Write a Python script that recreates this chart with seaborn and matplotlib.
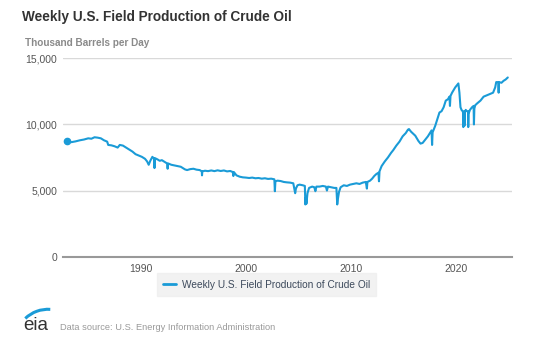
import numpy as np
import pandas as pd
import matplotlib
matplotlib.use("Agg")
import matplotlib.pyplot as plt
import seaborn as sns
from matplotlib.patches import Arc

# ---- data ----
years = [
    1983.0, 1983.4, 1983.8, 1984.2, 1984.6, 1985.0, 1985.3, 1985.6, 1985.9, 1986.2,
    1986.5, 1986.8, 1986.9, 1987.2, 1987.5, 1987.8, 1988.0, 1988.3, 1988.6, 1988.9,
    1989.2, 1989.5, 1989.8, 1990.1, 1990.4, 1990.6, 1990.75, 1990.9, 1991.1, 1991.25,
    1991.3, 1991.35, 1991.6, 1991.8, 1992.0, 1992.3, 1992.5, 1992.55, 1992.6, 1992.9,
    1993.2, 1993.5, 1993.8, 1994.0, 1994.2, 1994.4, 1994.7, 1995.0, 1995.3, 1995.6,
    1995.8, 1995.82, 1995.85, 1996.1, 1996.4, 1996.7, 1997.0, 1997.3, 1997.6, 1997.9,
    1998.2, 1998.5, 1998.75, 1998.8, 1998.85, 1999.1, 1999.4, 1999.7, 2000.0, 2000.3,
    2000.6, 2000.9, 2001.2, 2001.5, 2001.8, 2002.1, 2002.4, 2002.7, 2002.75, 2002.8,
    2003.0, 2003.3, 2003.6, 2003.9, 2004.2, 2004.5, 2004.68, 2004.75, 2004.9, 2005.1,
    2005.4, 2005.6, 2005.65, 2005.7, 2005.75, 2005.85, 2006.0, 2006.3, 2006.5, 2006.6,
    2006.7, 2007.0, 2007.3, 2007.6, 2007.7, 2007.8, 2008.1, 2008.4, 2008.6, 2008.68,
    2008.75, 2008.85, 2009.0, 2009.3, 2009.6, 2009.9, 2010.2, 2010.5, 2010.8, 2011.1,
    2011.4, 2011.5, 2011.55, 2011.8, 2012.0, 2012.2, 2012.4, 2012.6, 2012.65, 2012.7,
    2012.9, 2013.2, 2013.5, 2013.8, 2014.0, 2014.3, 2014.6, 2014.9, 2015.2, 2015.4,
    2015.5, 2015.7, 2015.9, 2016.1, 2016.4, 2016.6, 2016.8, 2017.0, 2017.3, 2017.5,
    2017.65, 2017.7, 2017.75, 2018.0, 2018.2, 2018.4, 2018.6, 2018.8, 2019.0, 2019.2,
    2019.35, 2019.4, 2019.45, 2019.6, 2019.9, 2020.0, 2020.2, 2020.3, 2020.4, 2020.5,
    2020.6, 2020.65, 2020.67, 2020.7, 2020.75, 2020.78, 2020.82, 2020.9, 2021.0, 2021.12,
    2021.14, 2021.17, 2021.3, 2021.5, 2021.65, 2021.68, 2021.72, 2021.8, 2022.0, 2022.3,
    2022.6, 2022.9, 2023.2, 2023.5, 2023.7, 2023.8, 2024.0, 2024.03, 2024.06, 2024.3,
    2024.5, 2024.7, 2024.9,
]
production = [
    8740, 8660, 8720, 8800, 8860, 8950, 8920, 9030, 9000, 8950,
    8800, 8700, 8450, 8420, 8350, 8250, 8450, 8400, 8250, 8100,
    7950, 7750, 7650, 7550, 7400, 7200, 6950, 7250, 7550, 7420,
    6700, 7450, 7350, 7250, 7300, 7150, 7050, 6650, 7050, 6950,
    6900, 6850, 6800, 6700, 6600, 6550, 6620, 6650, 6580, 6550,
    6450, 6150, 6450, 6500, 6470, 6520, 6470, 6530, 6480, 6520,
    6450, 6480, 6400, 6100, 6400, 6150, 6050, 6000, 5980, 5950,
    5980, 5930, 5950, 5900, 5930, 5880, 5900, 5850, 4950, 5700,
    5750, 5720, 5650, 5620, 5600, 5550, 4800, 5150, 5400, 5450,
    5400, 5350, 3950, 4500, 4000, 4800, 5200, 5300, 5250, 4950,
    5300, 5300, 5350, 5300, 5000, 5300, 5250, 5200, 5200, 3950,
    4400, 4900, 5250, 5400, 5350, 5450, 5500, 5550, 5500, 5600,
    5650, 5150, 5650, 5750, 5900, 6100, 6250, 6350, 5700, 6450,
    6850, 7200, 7500, 7850, 8050, 8400, 8700, 9100, 9350, 9600,
    9650, 9450, 9300, 9150, 8750, 8550, 8600, 8800, 9100, 9350,
    9550, 8450, 9400, 9900, 10400, 10900, 11000, 11300, 11800, 11900,
    12100, 11400, 12150, 12400, 12800, 12900, 13100, 12400, 11300, 11100,
    11000, 10900, 9800, 10900, 11000, 9900, 10900, 11100, 11000, 11000,
    9800, 10800, 11100, 11300, 11400, 10000, 11200, 11450, 11600, 11800,
    12100, 12200, 12300, 12400, 12800, 13200, 13200, 12400, 13200, 13150,
    13300, 13400, 13550,
]
assert len(years) == len(production)

series_name = "Weekly U.S. Field Production of Crude Oil"
y_ticks = [0, 5000, 10000, 15000]
y_tick_labels = ["0", "5,000", "10,000", "15,000"]
x_ticks = [1990, 2000, 2010, 2020]
x_tick_labels = ["1990", "2000", "2010", "2020"]

df = pd.DataFrame({"year": years, "value": production, "series": series_name})

sns.set_style("white")
plt.rcParams["font.family"] = ["Liberation Sans", "DejaVu Sans"]

W, H = 550, 339
fig = plt.figure(figsize=(W / 100, H / 100), dpi=100)
fig.patch.set_facecolor("white")

left, right, top, bottom = 63, 512, 58.3, 256.7
ax = fig.add_axes([left / W, 1 - bottom / H, (right - left) / W, (bottom - top) / H])

blue = "#1a9bd7"
sns.lineplot(data=df, x="year", y="value", hue="series", palette=[blue],
             linewidth=1.5, ax=ax, legend=True, estimator=None, sort=False)
ax.plot([years[0]], [production[0]], "o", color=blue, markersize=4.5, zorder=5)

ax.set_xlim(1982.6, 2025.3)
ax.set_ylim(0, 15000)
ax.set_xlabel("")
ax.set_ylabel("")

ax.set_yticks(y_ticks)
ax.set_yticklabels(y_tick_labels)
ax.set_xticks(x_ticks)
ax.set_xticklabels(x_tick_labels)
ax.tick_params(axis="y", length=0, pad=4, labelsize=7.5, labelcolor="#555555")
ax.tick_params(axis="x", length=4, width=1, color="#999999", pad=1,
               labelsize=7.5, labelcolor="#555555", direction="out")
ax.grid(axis="y", color="#d9d9d9", linewidth=1)
ax.grid(axis="x", visible=False)
for s in ["top", "right", "left"]:
    ax.spines[s].set_visible(False)
ax.spines["bottom"].set_color("#999999")
ax.spines["bottom"].set_linewidth(1.5)
ax.spines["bottom"].set_zorder(6)

# legend
handles, labels = ax.get_legend_handles_labels()
if ax.legend_:
    ax.legend_.remove()
leg = fig.legend(handles[:1], [series_name], loc="center",
                 bbox_to_anchor=(266.5 / W, 1 - 284.5 / H),
                 frameon=True, fancybox=False, facecolor="#efefef", edgecolor="#efefef",
                 fontsize=7.3, handlelength=1.3, handletextpad=0.6,
                 borderpad=0.6, labelcolor="#3d4a5c")
for ln in leg.get_lines():
    ln.set_linewidth(2)

# titles
fig.text(22 / W, 1 - 17 / H, "Weekly U.S. Field Production of Crude Oil",
         fontsize=9.8, fontweight="bold", color="#333333", va="center", ha="left")
fig.text(25 / W, 1 - 43 / H, "Thousand Barrels per Day",
         fontsize=7.2, fontweight="bold", color="#8a8a8a", va="center", ha="left")

# footer
fig.text(60 / W, 1 - 327 / H, "Data source: U.S. Energy Information Administration",
         fontsize=6.7, color="#9a9a9a", va="center", ha="left")

# eia logo (overlay axes in pixel units)
logo_ax = fig.add_axes([0, 0, 1, 1], facecolor="none")
logo_ax.set_xlim(0, W)
logo_ax.set_ylim(H, 0)
logo_ax.axis("off")
logo_ax.text(23, 325, "eia", fontsize=13.5, color="#333333", va="center", ha="left")
logo_ax.add_patch(Arc((48, 342), 65.4, 65.4, theta1=-134, theta2=-86,
                      color="#1a9bd7", linewidth=2.2))

fig.savefig("out.png", dpi=100, facecolor="white")
